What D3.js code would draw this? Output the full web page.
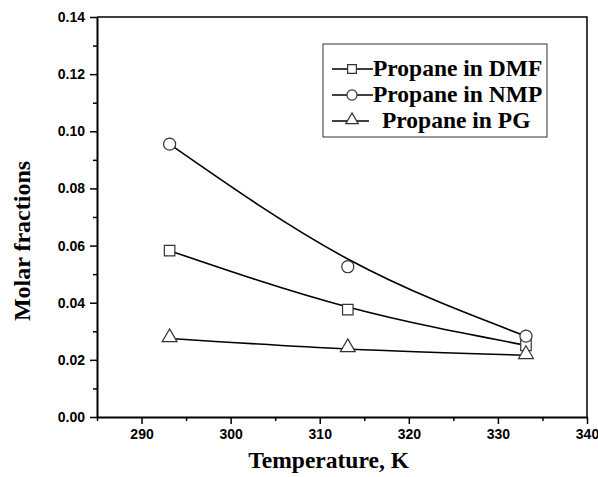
<!DOCTYPE html>
<html>
<head>
<meta charset="utf-8">
<script src="https://cdn.jsdelivr.net/npm/d3@7"></script>
<style>
  body { margin: 0; background: #fff; }
</style>
</head>
<body>
<div id="chart"></div>
<script>
var svgWidth = 598;
var svgHeight = 477;

var margin = { top: 17, right: 11, bottom: 60, left: 97 };

var width = svgWidth - margin.left - margin.right;
var height = svgHeight - margin.top - margin.bottom;

// data
var temperatures = [293.15, 313.15, 333.15];
var seriesNames = ["Propane in DMF", "Propane in NMP", "Propane in PG"];
var dmfValues = [0.0582, 0.0376, 0.0251];
var nmpValues = [0.0955, 0.0526, 0.0283];
var pgValues = [0.0275, 0.0240, 0.0216];
// fitted curves drawn through the points
var dmfFit = [0.0582, 0.0385, 0.0251];
var nmpFit = [0.0955, 0.0553, 0.0283];
var pgFit = [0.0275, 0.0238, 0.0216];
var xTicks = [290, 300, 310, 320, 330, 340];
var yTicks = [0.00, 0.02, 0.04, 0.06, 0.08, 0.10, 0.12, 0.14];

var symbols = ["square", "circle", "triangle"];
var series = seriesNames.map(function (name, i) {
  return {
    name: name,
    symbol: symbols[i],
    values: [dmfValues, nmpValues, pgValues][i],
    fit: [dmfFit, nmpFit, pgFit][i]
  };
});

var svg = d3.select("#chart")
  .append("svg")
  .attr("width", svgWidth)
  .attr("height", svgHeight);

var chartGroup = svg.append("g")
  .attr("transform", `translate(${margin.left}, ${margin.top})`);

var xScale = d3.scaleLinear().domain([285, 340]).range([0, width]);
var yScale = d3.scaleLinear().domain([0, 0.14]).range([height, 0]);

// minor ticks
var xMinor = d3.range(285, 341, 5).filter(d => xTicks.indexOf(d) < 0);
var yMinor = d3.range(0.01, 0.14, 0.02);

chartGroup.append("g")
  .attr("transform", `translate(0, ${height})`)
  .call(d3.axisBottom(xScale).tickValues(xMinor).tickSize(4).tickFormat(""))
  .call(g => g.select(".domain").remove())
  .selectAll("line").attr("stroke-width", 1.5);

chartGroup.append("g")
  .call(d3.axisLeft(yScale).tickValues(yMinor).tickSize(4).tickFormat(""))
  .call(g => g.select(".domain").remove())
  .selectAll("line").attr("stroke-width", 1.5);

var xAxis = chartGroup.append("g")
  .attr("transform", `translate(0, ${height})`)
  .call(d3.axisBottom(xScale).tickValues(xTicks).tickSize(7).tickSizeOuter(0).tickPadding(5).tickFormat(d3.format("d")));

var yAxis = chartGroup.append("g")
  .call(d3.axisLeft(yScale).tickValues(yTicks).tickSize(7).tickSizeOuter(0).tickPadding(5).tickFormat(d3.format(".2f")));

[xAxis, yAxis].forEach(function (ax) {
  ax.attr("font-family", "'Liberation Sans', Arial, sans-serif")
    .attr("font-size", 14)
    .attr("font-weight", "bold");
  ax.select(".domain").attr("stroke-width", 2);
  ax.selectAll(".tick line").attr("stroke-width", 1.5);
  ax.selectAll(".tick text").attr("fill", "#000");
});

// top and right border
chartGroup.append("path")
  .attr("d", `M0,0H${width}V${height}`)
  .attr("fill", "none")
  .attr("stroke", "#000")
  .attr("stroke-width", 1.5);

// curves
var line = d3.line()
  .x((d, i) => xScale(temperatures[i]))
  .y(d => yScale(d))
  .curve(d3.curveNatural);

chartGroup.selectAll(".fit")
  .data(series)
  .enter()
  .append("path")
  .attr("class", "fit")
  .attr("d", d => line(d.fit))
  .attr("fill", "none")
  .attr("stroke", "#000")
  .attr("stroke-width", 1.6);

var symbolType = { square: d3.symbolSquare, circle: d3.symbolCircle, triangle: d3.symbolTriangle };
var symbolSize = { square: 110, circle: 115, triangle: 95 };

function drawMarker(g, type, scale) {
  var yOff = type === "triangle" ? -1 : 0;
  g.append("path")
    .attr("d", d3.symbol().type(symbolType[type]).size(symbolSize[type] * scale)())
    .attr("transform", `translate(0, ${yOff})`)
    .attr("fill", "#fff")
    .attr("stroke", "#333")
    .attr("stroke-width", 1.2);
}

series.forEach(function (s) {
  s.values.forEach(function (v, i) {
    var g = chartGroup.append("g")
      .attr("transform", `translate(${xScale(temperatures[i])}, ${yScale(v)})`);
    drawMarker(g, s.symbol, 1);
  });
});

// legend
var legend = chartGroup.append("g")
  .attr("transform", "translate(226, 27)");

legend.append("rect")
  .attr("width", 224)
  .attr("height", 93)
  .attr("fill", "#fff")
  .attr("stroke", "#333")
  .attr("stroke-width", 1);

series.forEach(function (s, i) {
  var row = legend.append("g").attr("transform", `translate(0, ${25 + i * 26})`);
  row.append("line")
    .attr("x1", 9).attr("x2", i === 2 ? 46 : 50)
    .attr("y1", 0).attr("y2", 0)
    .attr("stroke", "#000").attr("stroke-width", 1.5);
  var m = row.append("g").attr("transform", "translate(29, 0)");
  drawMarker(m, s.symbol, 0.7);
  row.append("text")
    .attr("x", i === 2 ? 59 : 50)
    .attr("y", 7)
    .attr("font-family", "'Liberation Serif', 'Times New Roman', serif")
    .attr("font-weight", "bold")
    .attr("font-size", "23.5px")
    .text(s.name);
});

// axis titles
svg.append("text")
  .attr("x", margin.left + xScale(311))
  .attr("y", 468)
  .attr("text-anchor", "middle")
  .attr("font-family", "'Liberation Serif', 'Times New Roman', serif")
  .attr("font-weight", "bold")
  .attr("font-size", "23.5px")
  .text("Temperature, K");

svg.append("text")
  .attr("transform", "translate(30, 241) rotate(-90)")
  .attr("text-anchor", "middle")
  .attr("font-family", "'Liberation Serif', 'Times New Roman', serif")
  .attr("font-weight", "bold")
  .attr("font-size", "24px")
  .text("Molar fractions");
</script>
</body>
</html>
